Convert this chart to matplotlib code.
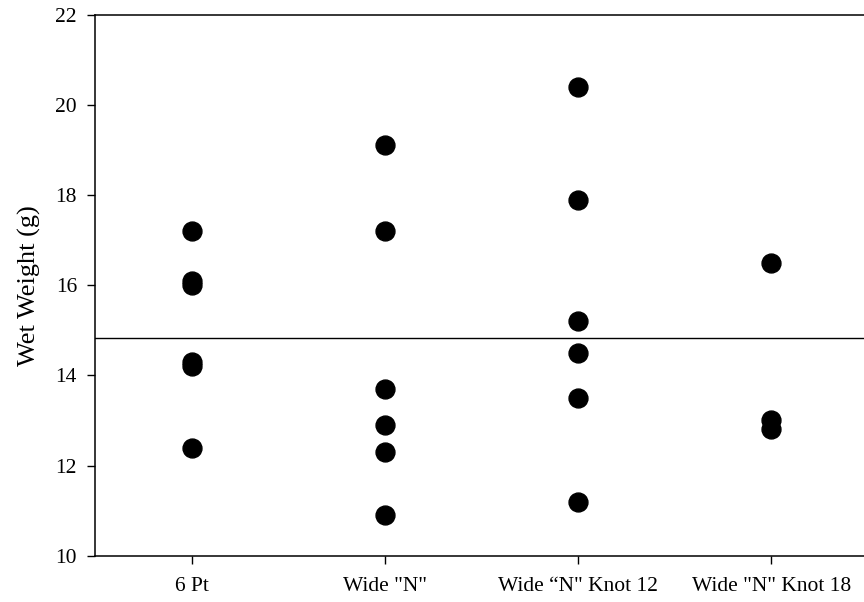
import numpy as np
import matplotlib.pyplot as plt

plt.rcParams['font.family'] = ['Liberation Serif', 'DejaVu Serif']

# Wet weight (g) per treatment
groups = ['6 Pt', 'Wide "N"', 'Wide \u201cN" Knot 12', 'Wide "N" Knot 18']
six_pt = [17.2, 16.1, 16.0, 14.3, 14.2, 12.4]
wide_n = [19.1, 17.2, 13.7, 12.9, 12.3, 10.9]
wide_n_knot12 = [20.4, 17.9, 15.2, 14.5, 13.5, 11.2]
wide_n_knot18 = [16.5, 13.0, 12.8]
yticks = [10, 12, 14, 16, 18, 20, 22]

series = [six_pt, wide_n, wide_n_knot12, wide_n_knot18]

fig = plt.figure(figsize=(8.64, 6.02), dpi=100)
ax = fig.add_axes([0.110, 0.0769, 0.8946, 0.8987])

for i, vals in enumerate(series):
    ax.scatter([i + 1] * len(vals), vals, s=185, color='black', zorder=3)

# grand mean across all observations
grand_mean = np.mean(np.concatenate([np.array(v) for v in series]))
ax.axhline(grand_mean, color='black', lw=1.0)

ax.set_xlim(0.5, 4.5)
ax.set_ylim(10, 22)
ax.set_xticks(range(1, len(groups) + 1))
ax.set_xticklabels(groups)
ax.set_yticks(yticks)
ax.set_ylabel('Wet Weight (g)', fontsize=19, labelpad=10)

ax.spines['right'].set_visible(False)
for side in ['left', 'bottom', 'top']:
    ax.spines[side].set_linewidth(1.1)
ax.tick_params(axis='both', direction='out', length=6, width=1.0, labelsize=15.5)
ax.tick_params(axis='y', pad=7)
ax.tick_params(axis='x', pad=9)

fig.savefig('out.png', dpi=100)
